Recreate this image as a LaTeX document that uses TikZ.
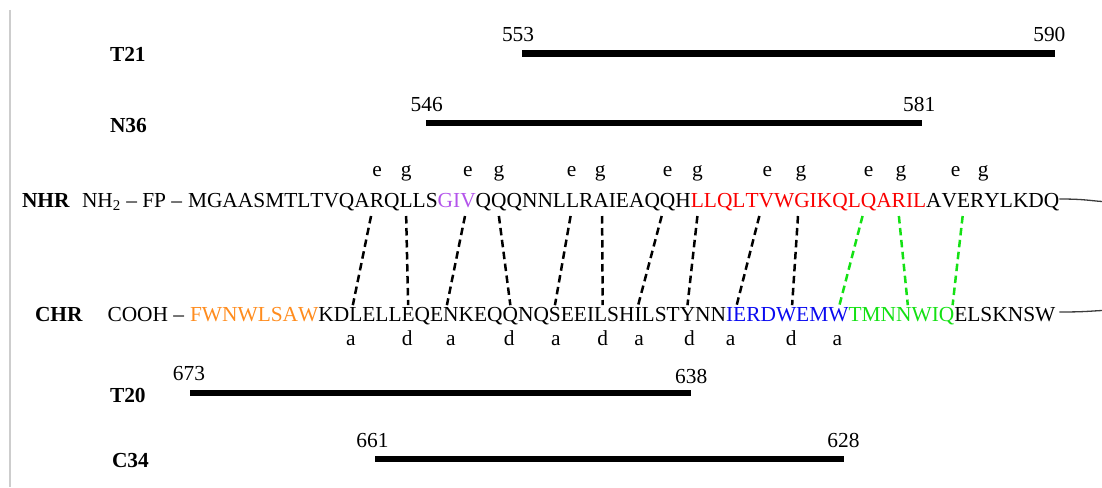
\documentclass[tikz,border=0pt]{standalone}
\usepackage{fontspec}
\setmainfont{Liberation Serif}
\usetikzlibrary{calc}

\definecolor{gpurple}{RGB}{180,85,235}
\definecolor{gred}{RGB}{250,0,0}
\definecolor{gorange}{RGB}{255,140,30}
\definecolor{gblue}{RGB}{10,10,240}
\definecolor{ggreen}{RGB}{20,225,20}
\definecolor{framegray}{RGB}{205,205,205}
\definecolor{loopgray}{RGB}{60,60,60}

% one residue per node, chained along the baseline: #1 row prefix, #2 first index, #3 colour, #4 residues
\newcommand\resrow[4]{%
  \foreach \l [count=\k from #2] in {#4} {%
    \pgfmathtruncatemacro\prevk{\k-1}%
    \node[res, text=#3, anchor=base west] (#1\k) at (#1\prevk.base east) {\l};
  }}

\begin{document}
\begin{tikzpicture}[x=1pt,y=1pt,
  every node/.style={inner sep=0pt, outer sep=0pt, font=\fontsize{21.4}{25}\selectfont},
  res/.style={},
  tag/.style={font=\fontsize{21.4}{25}\selectfont\bfseries, anchor=base west},
  num/.style={anchor=base},
  heptad/.style={anchor=base},
  bar/.style={line width=6.6pt, shorten >=4.5pt},
  pair/.style={line width=2.5pt, dash pattern=on 7.5pt off 4.5pt},
  greenpair/.style={pair, ggreen},
  loopline/.style={line width=1.3pt, loopgray}]

\useasboundingbox (0,0) rectangle (1102,-487);
\draw[framegray, line width=1.2pt] (10,-10) -- (10,-487);

% ---- NHR ----
\node[tag] (nhr) at (22,-207) {NHR};
\node[anchor=base east] (n0) at (188,-207) {};
\node[anchor=base east] (nterm) at ([xshift=-5.3pt]n0.base) {NH\textsubscript{2} -- FP --};
\resrow{n}{1}{black}{M,G,A,A,S,M,T,L,T,V,Q,A,R,Q,L,L,S}
\resrow{n}{18}{gpurple}{G,I,V}
\resrow{n}{21}{black}{Q,Q,Q,N,N,L,L,R,A,I,E,A,Q,Q,H}
\resrow{n}{36}{gred}{L,L,Q,L,T,V,W,G,I,K,Q,L,Q,A,R,I,L}
\resrow{n}{53}{black}{A,V,E,R,Y,L,K,D,Q}

% ---- CHR ----
\node[tag] (chr) at (35,-321.7) {CHR};
\node[anchor=base east] (c0) at (190,-321.7) {};
\node[anchor=base east] (cterm) at ([xshift=-5.3pt]c0.base) {COOH --};
\resrow{c}{1}{gorange}{F,W,N,W,L,S,A,W}
\resrow{c}{9}{black}{K,D,L,E,L,L,E,Q,E,N,K,E,Q,Q,N,Q,S,E,E,I,L,S,H,I,L,S,T,Y,N,N}
\resrow{c}{39}{gblue}{I,E,R,D,W,E,M,W}
\resrow{c}{47}{ggreen}{T,M,N,N,W,I,Q}
\resrow{c}{54}{black}{E,L,S,K,N,S,W}

% heptad positions (index/label/horizontal nudge)
\foreach \k/\t/\dx in {13/e/0,15/g/0,20/e/0,22/g/0,27/e/-1,29/g/-1,34/e/0,36/g/0,41/e/1,43/g/-1,48/e/0,50/g/2,55/e/-8,57/g/-9}
  \node[heptad] (h\k) at ($(n\k.base |- 0,-176)+(\dx,0)$) {\t};
\foreach \k/\t/\dx in {11/a/-5,15/d/-1,18/a/0,22/d/-1,25/a/1,29/d/2,32/a/1,36/d/2,39/a/1,43/d/5,46/a/-1}
  \node[heptad] (p\k) at ($(c\k.base |- 0,-345)+(\dx,0)$) {\t};

% interhelical contacts (NHR residue/CHR residue/top nudge/bottom nudge)
\foreach \a/\b/\dt/\db in {13/11/-6/-3,15/15/0/0,20/18/-3/-4,22/22/0/0,27/25/-2/0,29/29/1/2,34/32/-6/0,36/36/0/0,41/39/-7/7,43/43/-4/6}
  \draw[pair] ($(n\a.base)+(\dt,-9)$) -- ($(c\b.base)+(\db,16.5)$);
\foreach \a/\b/\dt/\db in {48/46/-6/1,50/50/0/4,55/53/-1/6}
  \draw[greenpair] ($(n\a.base)+(\dt,-9)$) -- ($(c\b.base)+(\db,16.5)$);

% loop joining the two helices
\coordinate (nloop) at (1102,-201.5);
\coordinate (cloop) at (1102,-310.5);
\draw[loopline] ([yshift=8pt]n61.base east) .. controls +(25,0) and +(-12,0.8) .. (nloop);
\draw[loopline] ([shift={(4pt,9.7pt)}]c60.base east) .. controls +(25,0) and +(-12,-0.6) .. (cloop);

% peptide spans
\coordinate (t21a) at (n24.west |- 0,-53.5);
\coordinate (t21b) at (n61.east |- 0,-53.5);
\coordinate (n36a) at (n17.west |- 0,-123);
\coordinate (n36b) at (n52.east |- 0,-123);
\coordinate (t20a) at (c1.west |- 0,-393);
\coordinate (t20b) at (c36.east |- 0,-393);
\coordinate (c34a) at (c13.west |- 0,-459);
\coordinate (c34b) at (c46.east |- 0,-459);

\draw[bar] (t21a) -- (t21b);
\draw[bar] (n36a) -- (n36b);
\draw[bar] (t20a) -- (t20b);
\draw[bar] (c34a) -- (c34b);

\node[tag] (t21) at (110,-62) {T21};
\node[tag] (n36) at (110,-132) {N36};
\node[tag] (t20) at (110,-402) {T20};
\node[tag] (c34) at (112,-467) {C34};

\node[num] (t21lo) at ($(t21a)+(-4,12)$) {553};
\node[num] (t21hi) at ($(t21b)+(-10,12)$) {590};
\node[num] (n36lo) at ($(n36a)+(1,12)$) {546};
\node[num] (n36hi) at ($(n36b)+(-7,12)$) {581};
\node[num] (t20lo) at ($(t20a)+(-1,13)$) {673};
\node[num] (t20hi) at ($(t20b)+(-4,10)$) {638};
\node[num] (c34lo) at ($(c34a)+(-3,12)$) {661};
\node[num] (c34hi) at ($(c34b)+(-5,12)$) {628};
\end{tikzpicture}
\end{document}
